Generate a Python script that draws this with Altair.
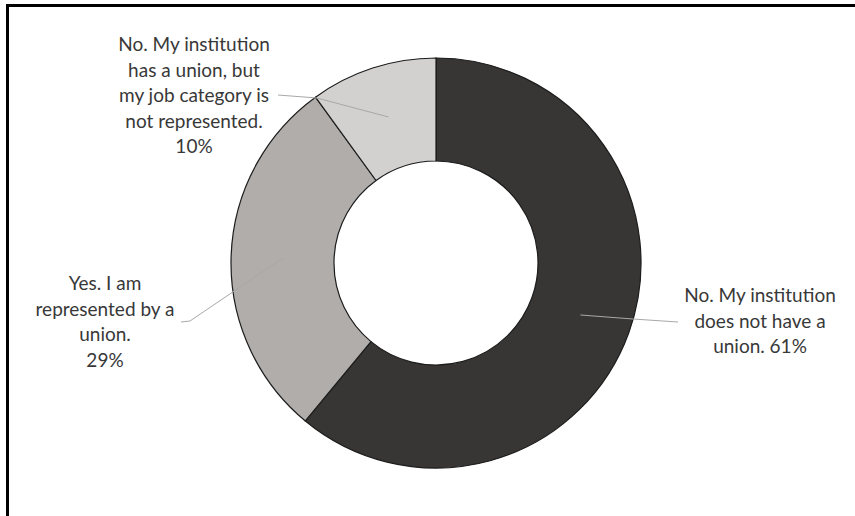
import altair as alt
import pandas as pd
import numpy as np

# ---- data ----
categories = [
    "No. My institution does not have a union.",
    "Yes. I am represented by a union.",
    "No. My institution has a union, but my job category is not represented.",
]
values = [61, 29, 10]
colors = ["#383634", "#b0adab", "#d3d1d0"]
label_lines = [
    ["No. My institution", "does not have a", "union. {p}"],
    ["Yes. I am", "represented by a", "union.", "{p}"],
    ["No. My institution", "has a union, but", "my job category is", "not represented.", "{p}"],
]

# ---- layout (pixels, donut-centred, y up) ----
W, H = 855, 516
CX, CY = 436, 263
R_OUT, R_IN = 205, 102
label_pos = [(324, -33), (-331, -21), (-242, 218)]  # first-line centre
leader_elbow = [(197, -56), (-246, -58), (-119, 165)]
leader_end = [(242, -59), (-255, -59), (-158, 168)]

xs = alt.Scale(domain=[-CX, W - CX], nice=False, zero=False)
ys = alt.Scale(domain=[CY - H, CY], nice=False, zero=False)

df = pd.DataFrame({"category": categories, "value": values, "order": range(len(values))})

# slice centroids from the data
total = sum(values)
cum = np.cumsum([0] + values)
rows = []
r_mid = (R_OUT + R_IN) / 2
for i, c in enumerate(categories):
    a = (cum[i] + values[i] / 2) / total * 2 * np.pi
    pts = [(r_mid * np.sin(a), r_mid * np.cos(a)), leader_elbow[i], leader_end[i]]
    for k, (px, py) in enumerate(pts):
        rows.append({"category": c, "k": k, "x": px, "y": py})
lines_df = pd.DataFrame(rows)

text_df = pd.DataFrame({
    "category": categories,
    "text": ["\n".join(l.replace("{p}", f"{v}%") for l in ls) for ls, v in zip(label_lines, values)],
    "x": [p[0] for p in label_pos],
    "y": [p[1] for p in label_pos],
})

arc = alt.Chart(df).mark_arc(
    outerRadius=R_OUT, innerRadius=R_IN, stroke="#1c1c1c", strokeWidth=1.2
).encode(
    theta=alt.Theta("value:Q", stack=True),
    order=alt.Order("order:Q"),
    color=alt.Color("category:N", scale=alt.Scale(domain=categories, range=colors), legend=None),
    x=alt.XDatum(0, type="quantitative", scale=xs, axis=None),
    y=alt.YDatum(0, type="quantitative", scale=ys, axis=None),
)

leaders = alt.Chart(lines_df).mark_line(color="#a8a8a8", strokeWidth=1).encode(
    x=alt.X("x:Q", scale=xs, axis=None),
    y=alt.Y("y:Q", scale=ys, axis=None),
    detail="category:N",
    order="k:Q",
)

labels = alt.Chart(text_df).mark_text(
    font="Lato", fontSize=19, lineHeight=25.6, color="#383838",
    align="center", baseline="middle", lineBreak="\n",
).encode(
    x=alt.X("x:Q", scale=xs, axis=None),
    y=alt.Y("y:Q", scale=ys, axis=None),
    text="text:N",
)

frame_top = alt.Chart(df).mark_rule(color="#000000", strokeWidth=3).encode(
    x=alt.value(6), x2=alt.value(W), y=alt.value(5.5)
)
frame_left = alt.Chart(df).mark_rule(color="#000000", strokeWidth=3).encode(
    x=alt.value(7.5), y=alt.value(4), y2=alt.value(H)
)
# white edge over the right side, where the page shows no border
edge_right = alt.Chart(df).mark_rule(color="#ffffff", strokeWidth=6).encode(
    x=alt.value(W - 2), y=alt.value(8), y2=alt.value(H)
)

chart = alt.layer(arc, leaders, labels, frame_top, frame_left, edge_right).properties(
    width=W, height=H, autosize=alt.AutoSizeParams(type="none"), padding=0,
    background="white",
).configure_view(stroke=None, strokeWidth=0)

chart.save("out.html", embed_options={"renderer": "svg", "actions": False})
